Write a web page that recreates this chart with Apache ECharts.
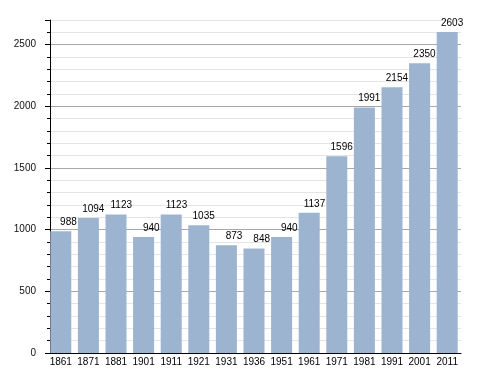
<!DOCTYPE html>
<html>
<head>
<meta charset="utf-8">
<script src="https://cdn.jsdelivr.net/npm/echarts@6/dist/echarts.min.js"></script>
<style>html,body{margin:0;padding:0;background:#fff;}#c{width:488px;height:373px;}</style>
</head>
<body>
<div id="c"></div>
<script>
const years = ['1861','1871','1881','1901','1911','1921','1931','1936','1951','1961','1971','1981','1991','2001','2011'];
const population = [988,1094,1123,940,1123,1035,873,848,940,1137,1596,1991,2154,2350,2603];
const yMax = 2700;
const yMajor = 500;
const yMinor = 100;

const font = "'Liberation Sans', Arial, sans-serif";
const chart = echarts.init(document.getElementById('c'), null, {renderer: 'canvas'});
chart.setOption({
  animation: false,
  backgroundColor: '#fff',
  grid: {left: 47, right: 27, top: 20, bottom: 20, containLabel: false},
  xAxis: {
    type: 'category',
    data: years,
    boundaryGap: true,
    axisLine: {show: true, lineStyle: {color: '#000', width: 1}},
    axisTick: {show: false},
    axisLabel: {color: '#000', fontSize: 10, fontFamily: font, margin: 4, interval: 0},
    splitLine: {show: false}
  },
  yAxis: [{
    type: 'value',
    min: 0, max: yMax, interval: yMinor,
    offset: -3,
    axisLine: {show: true, lineStyle: {color: '#000', width: 1}},
    axisTick: {show: true, length: 3, lineStyle: {color: '#000'}},
    axisLabel: {
      color: '#111', fontSize: 10, fontFamily: font, margin: 14,
      formatter: v => (v % yMajor === 0 ? String(v) : '')
    },
    splitLine: {show: true, lineStyle: {color: ['#a8a8a8', '#e4e4e4', '#e4e4e4', '#e4e4e4', '#e4e4e4'], width: 1}}
  }, {
    type: 'value',
    position: 'left',
    min: 0, max: yMax, interval: yMajor,
    offset: -3,
    axisLine: {show: false},
    axisTick: {show: true, length: 5, lineStyle: {color: '#000'}},
    axisLabel: {show: false},
    splitLine: {show: false}
  }],
  series: [{
    type: 'bar',
    data: population,
    yAxisIndex: 0,
    barWidth: 21,
    itemStyle: {color: '#9cb4d0'},
    label: {
      show: true, position: 'top', distance: 4,
      align: 'right', offset: [16, 0],
      color: '#000', fontSize: 10, fontFamily: font
    }
  }]
});
</script>
</body>
</html>
